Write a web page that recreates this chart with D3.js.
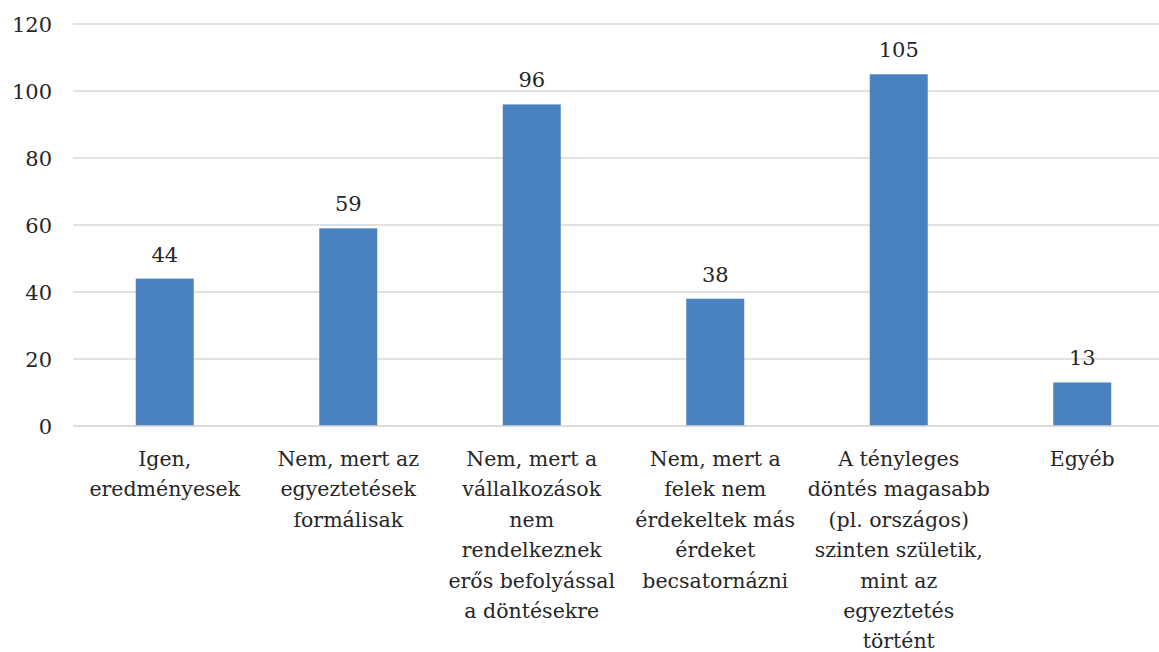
<!DOCTYPE html>
<html>
<head>
<meta charset="utf-8">
<script src="https://cdn.jsdelivr.net/npm/d3@7"></script>
<style>
  html, body { margin: 0; padding: 0; background: #fff; }
  svg { display: block; }
  text { font-family: "DejaVu Serif", serif; fill: #262626; }
</style>
</head>
<body>
<svg id="chart" width="1159" height="652"></svg>
<script>
const categories = [
  "Igen,\neredményesek",
  "Nem, mert az\negyeztetések\nformálisak",
  "Nem, mert a\nvállalkozások\nnem\nrendelkeznek\nerős befolyással\na döntésekre",
  "Nem, mert a\nfelek nem\nérdekeltek más\nérdeket\nbecsatornázni",
  "A tényleges\ndöntés magasabb\n(pl. országos)\nszinten születik,\nmint az\negyeztetés\ntörtént",
  "Egyéb"
];
const values = [44, 59, 96, 38, 105, 13];
const yTicks = [0, 20, 40, 60, 80, 100, 120];

const svg = d3.select("#chart");
const fontSize = 20.5;
const tickFont = 21;
const lineH = 30.4;

const x = d3.scaleBand()
  .domain(categories)
  .range([73, 1174])
  .paddingInner(0.684)
  .paddingOuter(0.342);

const y = d3.scaleLinear().domain([0, 120]).range([426, 24]);

// gridlines
svg.append("g")
  .selectAll("line")
  .data(yTicks)
  .join("line")
  .attr("x1", 73)
  .attr("x2", 1159)
  .attr("y1", d => y(d))
  .attr("y2", d => y(d))
  .attr("stroke", "#d9d9d9")
  .attr("stroke-width", 1.5);

// y tick labels
svg.append("g")
  .selectAll("text")
  .data(yTicks)
  .join("text")
  .attr("x", 52)
  .attr("y", d => y(d))
  .attr("dy", "0.36em")
  .attr("text-anchor", "end")
  .style("font-size", tickFont + "px")
  .text(d => d);

// bars
svg.append("g")
  .selectAll("rect")
  .data(values)
  .join("rect")
  .attr("x", (d, i) => x(categories[i]))
  .attr("width", x.bandwidth())
  .attr("y", d => y(d))
  .attr("height", d => y(0) - y(d))
  .attr("fill", "#4a81bf");

// redraw baseline on top
svg.append("line")
  .attr("x1", 73).attr("x2", 1159)
  .attr("y1", y(0)).attr("y2", y(0))
  .attr("stroke", "#d9d9d9").attr("stroke-width", 1.5);

// value labels
svg.append("g")
  .selectAll("text")
  .data(values)
  .join("text")
  .attr("x", (d, i) => x(categories[i]) + x.bandwidth() / 2)
  .attr("y", d => y(d) - 17)
  .attr("text-anchor", "middle")
  .style("font-size", tickFont + "px")
  .text(d => d);

// category labels
const catG = svg.append("g");
categories.forEach(c => {
  const t = catG.append("text")
    .attr("text-anchor", "middle")
    .style("font-size", fontSize + "px");
  c.split("\n").forEach((line, j) => {
    t.append("tspan")
      .attr("x", x(c) + x.bandwidth() / 2)
      .attr("y", 466 + j * lineH)
      .text(line);
  });
});
</script>
</body>
</html>
